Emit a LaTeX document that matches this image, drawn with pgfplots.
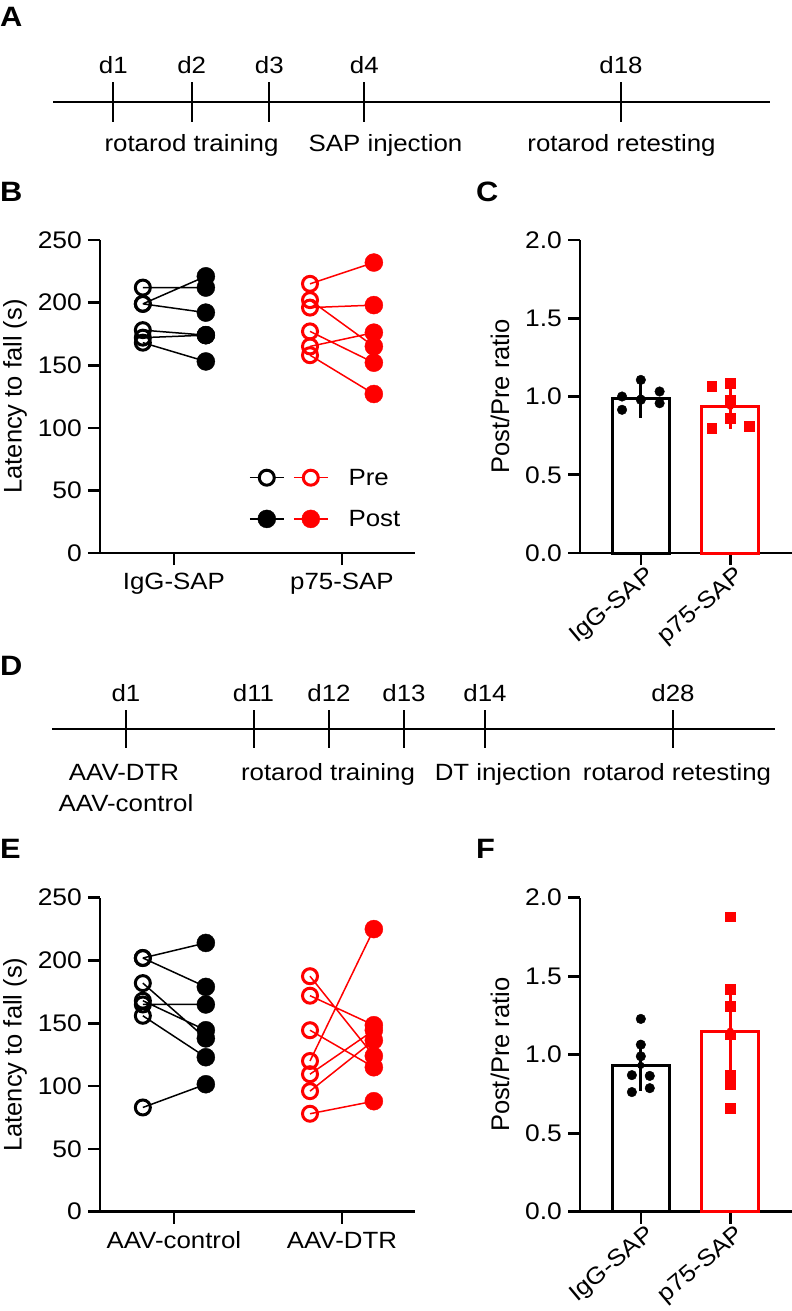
\documentclass[border=0pt]{standalone}
\usepackage{pgfplots}
\pgfplotsset{compat=1.18}
\usepackage{fontspec}
\setmainfont{Liberation Sans}[FakeStretch=1.1]
\newfontfamily\rotfont{Liberation Sans}
\newcommand\tlfont{\fontsize{23.5bp}{28bp}\selectfont}
\newcommand\letterfont{\bfseries\fontsize{28bp}{32bp}\selectfont}
\pgfplotsset{
  panel/.style={
    scale only axis, clip=false,
    axis x line*=bottom, axis y line*=left,
    axis line style={line width=2.6bp, black},
    tick align=outside, major tick length=12bp,
    tick style={line width=2.6bp, black},
    minor tick num=0,
    tick label style={inner sep=0pt, black},
    yticklabel style={font=\fontsize{24bp}{28bp}\selectfont, xshift=-6bp},
    ylabel style={font=\rotfont\fontsize{25.5bp}{30bp}\selectfont, anchor=center},
  },
  catx/.style={xticklabel style={font=\fontsize{23.5bp}{28bp}\selectfont, yshift=-8bp}},
  rotx/.style={xticklabel style={font=\fontsize{23.5bp}{28bp}\selectfont,
      xshift=4bp, yshift=0bp, rotate=40, anchor=north east}},
  timeline/.style={
    hide axis, scale only axis, clip=false,
    width=792bp, xmin=0, xmax=792,
  },
}
\begin{document}
\begin{tikzpicture}
\path[use as bounding box] (0bp,0bp) rectangle (792bp,-1311bp);

% panel letters
\node[font=\letterfont, anchor=base west, inner sep=0pt] at (0bp,-26bp) {A};
\node[font=\letterfont, anchor=base west, inner sep=0pt] at (0bp,-201bp) {B};
\node[font=\letterfont, anchor=base west, inner sep=0pt] at (476bp,-201bp) {C};
\node[font=\letterfont, anchor=base west, inner sep=0pt] at (0bp,-675bp) {D};
\node[font=\letterfont, anchor=base west, inner sep=0pt] at (0bp,-858bp) {E};
\node[font=\letterfont, anchor=base west, inner sep=0pt] at (476bp,-858bp) {F};

% ---------------- A: timeline ----------------
\begin{axis}[timeline, height=170bp, ymin=-170, ymax=0, at={(0bp,0bp)}, anchor=north west]
\addplot[black, line width=2bp] coordinates {(53,-101.7) (770,-101.7)};
\addplot[black, line width=2bp, unbounded coords=jump] coordinates {
  (113.3,-82.3) (113.3,-121.7) (0,nan)
  (191.7,-82.3) (191.7,-121.7) (0,nan)
  (269.3,-82.3) (269.3,-121.7) (0,nan)
  (364.3,-82.3) (364.3,-121.7) (0,nan)
  (621,-82.3) (621,-121.7)};
\node[font=\tlfont, anchor=base] at (axis cs:113.3,-73.3) {d1};
\node[font=\tlfont, anchor=base] at (axis cs:191.7,-73.3) {d2};
\node[font=\tlfont, anchor=base] at (axis cs:269.3,-73.3) {d3};
\node[font=\tlfont, anchor=base] at (axis cs:364.3,-73.3) {d4};
\node[font=\tlfont, anchor=base] at (axis cs:621,-73.3) {d18};
\node[font=\tlfont, anchor=base] at (axis cs:191.5,-151.7) {rotarod training};
\node[font=\tlfont, anchor=base] at (axis cs:385.5,-151.7) {SAP injection};
\node[font=\tlfont, anchor=base] at (axis cs:621.5,-151.7) {rotarod retesting};
\end{axis}

% ---------------- D: timeline ----------------
\begin{axis}[timeline, height=200bp, ymin=-840, ymax=-640, at={(0bp,-640bp)}, anchor=north west]
\addplot[black, line width=2bp] coordinates {(52,-729.3) (775,-729.3)};
\addplot[black, line width=2bp, unbounded coords=jump] coordinates {
  (126,-710) (126,-748) (0,nan)
  (253.5,-710) (253.5,-748) (0,nan)
  (329,-710) (329,-748) (0,nan)
  (404,-710) (404,-748) (0,nan)
  (485,-710) (485,-748) (0,nan)
  (673,-710) (673,-748)};
\node[font=\tlfont, anchor=base] at (axis cs:126,-701) {d1};
\node[font=\tlfont, anchor=base] at (axis cs:253.5,-701) {d11};
\node[font=\tlfont, anchor=base] at (axis cs:329,-701) {d12};
\node[font=\tlfont, anchor=base] at (axis cs:404,-701) {d13};
\node[font=\tlfont, anchor=base] at (axis cs:485,-701) {d14};
\node[font=\tlfont, anchor=base] at (axis cs:673,-701) {d28};
\node[font=\tlfont, anchor=base] at (axis cs:124,-780) {AAV-DTR};
\node[font=\tlfont, anchor=base] at (axis cs:126,-811.7) {AAV-control};
\node[font=\tlfont, anchor=base] at (axis cs:328,-780) {rotarod training};
\node[font=\tlfont, anchor=base] at (axis cs:503,-780) {DT injection};
\node[font=\tlfont, anchor=base] at (axis cs:677,-780) {rotarod retesting};
\end{axis}

% ---------------- B ----------------
\begin{axis}[panel, catx, width=315bp, height=313bp, at={(100bp,-553bp)}, anchor=south west,
  xmin=-0.44, xmax=1.435, ymin=0, ymax=250,
  xtick={0,1}, xticklabels={IgG-SAP,p75-SAP},
  ytick={0,50,100,150,200,250}, yticklabels={0,50,100,150,200,250},
  ylabel={Latency to fall (s)}, ylabel style={at={(axis description cs:-0.27,0.5)}},
  legend style={at={(axis cs:0.446,67.5)}, anchor=north west, draw=none, fill=none,
    font=\fontsize{23.5bp}{28bp}\selectfont, row sep=23bp, column sep=20bp,
    inner sep=0pt, nodes={inner sep=0pt}},
  legend cell align=left]
\draw[line width=2.6bp] (axis cs:-0.44,0) -- ++(-12bp,0bp);
\addplot[black, line width=1.5bp, unbounded coords=jump, forget plot] coordinates {
  (-0.185,212) (0.19,212) (0,nan)
  (-0.185,199) (0.19,221) (0,nan)
  (-0.185,199) (0.19,192) (0,nan)
  (-0.185,178) (0.19,174) (0,nan)
  (-0.185,172) (0.19,174) (0,nan)
  (-0.185,168) (0.19,153)};
\addplot[red, line width=1.5bp, unbounded coords=jump, forget plot] coordinates {
  (0.81,215) (1.19,232) (0,nan)
  (0.81,202) (1.19,165) (0,nan)
  (0.81,196) (1.19,198) (0,nan)
  (0.81,177) (1.19,152) (0,nan)
  (0.81,165) (1.19,176) (0,nan)
  (0.81,158) (1.19,127)};
\addplot[only marks, black, mark=o, mark size=7.5bp, mark options={line width=3bp}, forget plot]
  coordinates {(-0.185,212) (-0.185,199) (-0.185,199) (-0.185,178) (-0.185,172) (-0.185,168)};
\addplot[only marks, black, mark=*, mark size=9bp, forget plot]
  coordinates {(0.19,212) (0.19,221) (0.19,192) (0.19,174) (0.19,174) (0.19,153)};
\addplot[only marks, red, mark=o, mark size=7.5bp, mark options={line width=3bp}, forget plot]
  coordinates {(0.81,215) (0.81,202) (0.81,196) (0.81,177) (0.81,165) (0.81,158)};
\addplot[only marks, red, mark=*, mark size=9bp, forget plot]
  coordinates {(1.19,232) (1.19,165) (1.19,198) (1.19,152) (1.19,176) (1.19,127)};
\addlegendimage{legend image code/.code={
  \draw[black, line width=1.5bp] (0bp,0bp) -- (34bp,0bp);
  \draw[black, line width=3bp, fill=white] (17bp,0bp) circle[radius=7.5bp];
  \draw[red, line width=1.5bp] (44bp,0bp) -- (78bp,0bp);
  \draw[red, line width=3bp, fill=white] (61bp,0bp) circle[radius=7.5bp];}}
\addlegendentry{Pre}
\addlegendimage{legend image code/.code={
  \draw[black, line width=1.5bp] (0bp,0bp) -- (34bp,0bp);
  \fill[black] (17bp,0bp) circle[radius=9bp];
  \draw[red, line width=1.5bp] (44bp,0bp) -- (78bp,0bp);
  \fill[red] (61bp,0bp) circle[radius=9bp];}}
\addlegendentry{Post}
\end{axis}

% ---------------- C ----------------
\begin{axis}[panel, rotx, width=212bp, height=313bp, at={(580bp,-553bp)}, anchor=south west,
  xmin=-0.68, xmax=1.69, ymin=0, ymax=2,
  xtick={0,1}, xticklabels={IgG-SAP,p75-SAP},
  ytick={0,0.5,1,1.5,2}, yticklabels={0.0,0.5,1.0,1.5,2.0},
  ylabel={Post/Pre ratio}, ylabel style={at={(axis description cs:-0.377,0.5)}}]
\draw[line width=2.6bp] (axis cs:-0.68,0) -- ++(-12bp,0bp);
\addplot[ybar, bar width=0.64, bar shift=0pt, draw=black, fill=white, line width=3bp] coordinates {(0,0.99)};
\addplot[ybar, bar width=0.64, bar shift=0pt, draw=red, fill=white, line width=3bp] coordinates {(1,0.935)};
\addplot[only marks, black, mark=*, mark size=4.8bp]
  coordinates {(-0.21,1.0) (-0.21,0.915) (0,1.106) (0,0.979) (0.21,1.032) (0.21,0.957)};
\addplot[only marks, red, mark=square*, mark size=4.8bp]
  coordinates {(0.79,1.064) (1,1.085) (1,0.979) (1,0.862) (0.79,0.798) (1.21,0.809)};
\addplot[black, line width=3bp, only marks, mark=none,
  error bars/.cd, y dir=both, y explicit, error bar style={line width=3bp},
  error mark options={mark size=14bp, line width=3bp}]
  coordinates {(0,0.99) +- (0,0.035)};
\addplot[red, line width=3bp, only marks, mark=none,
  error bars/.cd, y dir=both, y explicit, error bar style={line width=3bp},
  error mark options={mark size=14bp, line width=3bp}]
  coordinates {(1,0.937) +- (0,0.055)};
\end{axis}

% ---------------- E ----------------
\begin{axis}[panel, catx, width=315bp, height=314bp, at={(100bp,-1211.7bp)}, anchor=south west,
  xmin=-0.44, xmax=1.435, ymin=0, ymax=250,
  xtick={0,1}, xticklabels={AAV-control,AAV-DTR},
  ytick={0,50,100,150,200,250}, yticklabels={0,50,100,150,200,250},
  ylabel={Latency to fall (s)}, ylabel style={at={(axis description cs:-0.27,0.5)}}]
\draw[line width=2.6bp] (axis cs:-0.44,0) -- ++(-12bp,0bp);
\addplot[black, line width=1.5bp, unbounded coords=jump] coordinates {
  (-0.185,202) (0.19,214) (0,nan)
  (-0.185,202) (0.19,179) (0,nan)
  (-0.185,182) (0.19,138) (0,nan)
  (-0.185,168) (0.19,144.5) (0,nan)
  (-0.185,165) (0.19,165) (0,nan)
  (-0.185,156) (0.19,123) (0,nan)
  (-0.185,83) (0.19,101.5)};
\addplot[red, line width=1.5bp, unbounded coords=jump] coordinates {
  (0.81,187.5) (1.19,124) (0,nan)
  (0.81,172) (1.19,148.5) (0,nan)
  (0.81,144.5) (1.19,115) (0,nan)
  (0.81,120) (1.19,225) (0,nan)
  (0.81,109.5) (1.19,144.5) (0,nan)
  (0.81,96) (1.19,136.5) (0,nan)
  (0.81,78) (1.19,88)};
\addplot[only marks, black, mark=o, mark size=7.5bp, mark options={line width=3bp}]
  coordinates {(-0.185,202) (-0.185,202) (-0.185,182) (-0.185,168) (-0.185,165) (-0.185,156) (-0.185,83)};
\addplot[only marks, black, mark=*, mark size=9bp]
  coordinates {(0.19,214) (0.19,179) (0.19,138) (0.19,144.5) (0.19,165) (0.19,123) (0.19,101.5)};
\addplot[only marks, red, mark=o, mark size=7.5bp, mark options={line width=3bp}]
  coordinates {(0.81,187.5) (0.81,172) (0.81,144.5) (0.81,120) (0.81,109.5) (0.81,96) (0.81,78)};
\addplot[only marks, red, mark=*, mark size=9bp]
  coordinates {(1.19,124) (1.19,148.5) (1.19,115) (1.19,225) (1.19,144.5) (1.19,136.5) (1.19,88)};
\end{axis}

% ---------------- F ----------------
\begin{axis}[panel, rotx, width=212bp, height=314bp, at={(580bp,-1211.7bp)}, anchor=south west,
  xmin=-0.68, xmax=1.69, ymin=0, ymax=2,
  xtick={0,1}, xticklabels={IgG-SAP,p75-SAP},
  ytick={0,0.5,1,1.5,2}, yticklabels={0.0,0.5,1.0,1.5,2.0},
  ylabel={Post/Pre ratio}, ylabel style={at={(axis description cs:-0.377,0.5)}}]
\draw[line width=2.6bp] (axis cs:-0.68,0) -- ++(-12bp,0bp);
\addplot[ybar, bar width=0.64, bar shift=0pt, draw=black, fill=white, line width=3bp] coordinates {(0,0.932)};
\addplot[ybar, bar width=0.64, bar shift=0pt, draw=red, fill=white, line width=3bp] coordinates {(1,1.145)};
\addplot[only marks, black, mark=*, mark size=4.8bp]
  coordinates {(0,1.228) (0,1.064) (0,0.99) (-0.1,0.87) (0.1,0.865) (-0.1,0.762) (0.1,0.787)};
\addplot[only marks, red, mark=square*, mark size=4.8bp]
  coordinates {(1,1.879) (1,1.419) (1,1.309) (1,1.128) (1,0.872) (1,0.809) (1,0.66)};
\addplot[black, line width=3bp, only marks, mark=none,
  error bars/.cd, y dir=both, y explicit, error bar style={line width=3bp},
  error mark options={mark size=14bp, line width=3bp}]
  coordinates {(0,0.932) +- (0,0.072)};
\addplot[red, line width=3bp, only marks, mark=none,
  error bars/.cd, y dir=both, y explicit, error bar style={line width=3bp},
  error mark options={mark size=14bp, line width=3bp}]
  coordinates {(1,1.15) +- (0,0.163)};
\end{axis}
\end{tikzpicture}
\end{document}
